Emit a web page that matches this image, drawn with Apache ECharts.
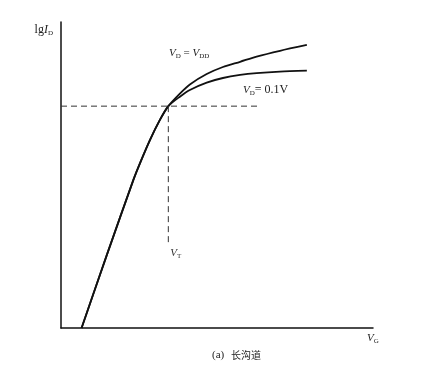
<!DOCTYPE html>
<html>
<head>
<meta charset="utf-8">
<script src="https://cdn.jsdelivr.net/npm/echarts@6/dist/echarts.min.js"></script>
<style>
html,body{margin:0;padding:0;background:#fff;}
#chart{width:440px;height:386px;}
</style>
</head>
<body>
<div id="chart"></div>
<script>
// Shared rising part (VG, lgID) in arbitrary units
var commonVG = [0.66, 1.47, 2.32, 2.53, 2.85, 3.17, 3.44];
var commonLgID = [0.00, 2.39, 4.84, 5.38, 6.14, 6.80, 7.25];
// Branch for VD = VDD
var vddVG = [3.81, 4.13, 4.67, 5.19, 5.74, 6.27, 7.02, 7.88];
var vddLgID = [7.66, 7.96, 8.30, 8.53, 8.70, 8.87, 9.06, 9.25];
// Branch for VD = 0.1V
var lowVG = [3.81, 4.13, 4.67, 5.19, 5.74, 6.27, 7.02, 7.88];
var lowLgID = [7.56, 7.78, 8.02, 8.17, 8.27, 8.33, 8.38, 8.41];
// Threshold point and guide extents
var VT = 3.44;
var lgIDatVT = 7.25;
var hGuideEnd = 6.31;
var vGuideBottom = 2.78;

function pairs(xs, ys){ return xs.map(function(x,i){ return [x, ys[i]]; }); }

var serif = '"Liberation Serif","DejaVu Serif",serif';
var chart = echarts.init(document.getElementById('chart'), null, {renderer:'canvas'});
var axisLine = {show:true, lineStyle:{color:'#111', width:1.5}};
chart.setOption({
  animation:false,
  backgroundColor:'#fff',
  grid:{left:61, right:67, top:22, bottom:58},
  xAxis:{type:'value', min:0, max:10, axisLine:axisLine, axisTick:{show:false}, axisLabel:{show:false}, splitLine:{show:false},
    name:'{v|V}{s|G}', nameLocation:'end', nameGap:-6,
    nameTextStyle:{padding:[20,0,0,0], rich:{v:{fontFamily:serif, fontStyle:'italic', fontSize:11, color:'#222'}, s:{fontFamily:serif, fontSize:7, color:'#222', padding:[6,0,0,0]}}}},
  yAxis:{type:'value', min:0, max:10, axisLine:axisLine, axisTick:{show:false}, axisLabel:{show:false}, splitLine:{show:false},
    name:'{n|lg}{v|I}{s|D}', nameLocation:'end', nameGap:-8,
    nameTextStyle:{align:'right', verticalAlign:'middle', padding:[0,8,0,0], rich:{n:{fontFamily:serif, fontSize:12, color:'#222'}, v:{fontFamily:serif, fontStyle:'italic', fontSize:12, color:'#222'}, s:{fontFamily:serif, fontSize:7, color:'#222', padding:[7,0,0,0]}}}},
  series:[
    {type:'line', data:pairs(commonVG.concat(vddVG), commonLgID.concat(vddLgID)), smooth:0.25, symbol:'none', lineStyle:{color:'#111', width:1.8}},
    {type:'line', data:pairs(commonVG.concat(lowVG), commonLgID.concat(lowLgID)), smooth:0.25, symbol:'none', lineStyle:{color:'#111', width:1.8}},
    {type:'line', data:[[0,lgIDatVT],[hGuideEnd,lgIDatVT]], symbol:'none', lineStyle:{color:'#333', width:1, type:[6,4]}},
    {type:'line', data:[[VT,lgIDatVT],[VT,vGuideBottom]], symbol:'none', lineStyle:{color:'#333', width:1, type:[6,4]},
      endLabel:{show:true, formatter:'{v|V}{s|T}', offset:[-6,10], rich:{v:{fontFamily:serif, fontStyle:'italic', fontSize:11, color:'#333'}, s:{fontFamily:serif, fontSize:7, color:'#333', padding:[6,0,0,0]}}}}
  ],
  graphic:[
    {type:'text', left:169, top:48, style:{text:'{v|V}{s|D} = {v|V}{s|DD}', rich:{v:{fontFamily:serif, fontStyle:'italic', fontSize:11, fill:'#222'}, s:{fontFamily:serif, fontSize:7, fill:'#222', padding:[6,0,0,0]}}, font:'11px '+serif, fill:'#222'}},
    {type:'text', left:243, top:84, style:{text:'{v|V}{s|D}{n|= 0.1V}', rich:{v:{fontFamily:serif, fontStyle:'italic', fontSize:11, fill:'#222'}, s:{fontFamily:serif, fontSize:7, fill:'#222', padding:[6,0,0,0]}, n:{fontFamily:serif, fontSize:12, fill:'#222'}}}},
    {type:'text', left:212, top:349, style:{text:'{a|(a)}  {c|长沟道}', rich:{a:{fontFamily:serif, fontSize:11, fill:'#222'}, c:{fontFamily:'"Noto Sans CJK SC", serif', fontSize:10, fill:'#222'}}}}
  ]
});
</script>
</body>
</html>
